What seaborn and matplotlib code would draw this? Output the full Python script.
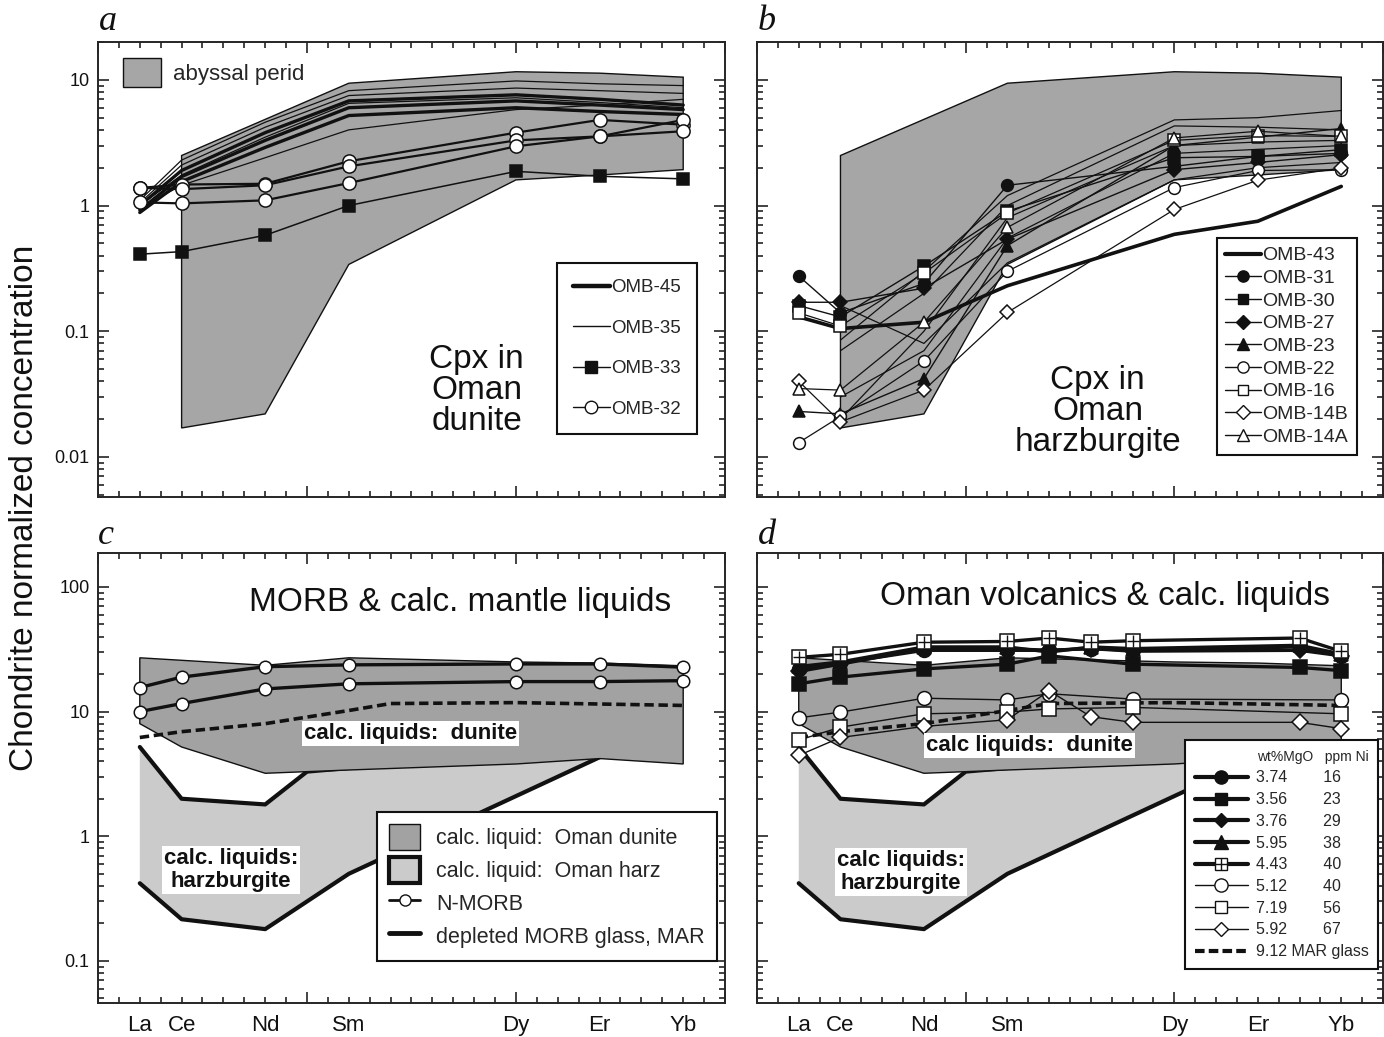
import numpy as np
import matplotlib
matplotlib.use("Agg")
import matplotlib.pyplot as plt
from matplotlib.lines import Line2D
from matplotlib.patches import Patch
from matplotlib.legend_handler import HandlerTuple
from matplotlib.ticker import FixedLocator, MultipleLocator, LogLocator, NullFormatter, FuncFormatter
from matplotlib.transforms import blended_transform_factory
import seaborn as sns

# ---- data ----
ree = ['La', 'Ce', 'Nd', 'Sm', 'Dy', 'Er', 'Yb']
ree_z = [57, 58, 60, 62, 66, 68, 70]
nan = np.nan

# abyssal peridotite cpx field (panels a, b)
abyssal_top_z = [58, 62, 66, 68, 70]
abyssal_top_v = [2.5, 9.4, 11.6, 11.3, 10.5]
abyssal_bot_z = [58, 60, 62, 66, 68, 70]
abyssal_bot_v = [0.017, 0.022, 0.34, 1.6, 1.75, 1.93]

# panel a: cpx in Oman dunite
omb45 = [[0.88, 1.55, 2.9, 5.2, 6.0, 5.6, 5.3],
         [0.92, 1.7, 3.3, 6.0, 6.8, 6.3, 5.8],
         [1.0, 1.9, 3.8, 6.8, 7.6, 7.0, 6.3]]
omb35 = [[1.05, 2.1, 4.2, 7.5, 8.6, 8.2, 7.8],
         [1.1, 2.3, 4.6, 8.2, 9.8, 9.3, 9.0],
         [0.95, 1.45, 2.4, 4.0, 5.8, 6.3, 7.0],
         [1.0, 1.75, 3.5, 6.5, 7.2, 6.6, 6.0]]
omb33 = [0.41, 0.43, 0.58, 1.0, 1.87, 1.71, 1.63]
omb32 = [[1.38, 1.47, 1.49, 2.25, 3.8, 4.8, 4.4],
         [1.38, 1.35, 1.45, 2.05, 3.3, 3.55, 4.8],
         [1.06, 1.04, 1.10, 1.51, 2.96, 3.55, 3.9]]

# panel b: cpx in Oman harzburgite
harz_names = ['OMB-43', 'OMB-31', 'OMB-30', 'OMB-27', 'OMB-23',
              'OMB-22', 'OMB-16', 'OMB-14B', 'OMB-14A']
harz_vals = [[0.13, 0.105, 0.118, 0.23, 0.59, 0.75, 1.42],
             [0.275, 0.14, 0.24, 1.45, 2.05, 2.46, 2.6],
             [0.16, 0.13, 0.33, 0.9, 2.4, 2.46, 2.78],
             [0.17, 0.17, 0.22, 0.54, 1.93, 2.2, 2.54],
             [0.023, 0.022, 0.042, 0.48, 3.0, 3.5, 4.1],
             [0.013, 0.021, 0.058, 0.30, 1.39, 1.9, 1.93],
             [0.14, 0.11, 0.29, 0.87, 3.3, 3.6, 3.55],
             [0.040, 0.019, 0.034, 0.141, 0.93, 1.59, 1.99],
             [0.035, 0.034, 0.118, 0.67, 3.45, 3.9, 3.55]]
harz_other = [[nan, 0.085, 0.30, 1.2, 4.8, 5.0, 5.7],
              [nan, 0.07, 0.20, 1.0, 4.3, 4.2, 4.0],
              [nan, 0.02, 0.10, 0.8, 3.0, 3.2, 3.3],
              [nan, 0.03, 0.07, 0.55, 2.6, 2.8, 3.0],
              [nan, 0.16, 0.08, 0.35, 1.6, 2.0, 2.2]]

# panels c, d: calculated liquid fields
dun_top_z = [57, 60, 62, 66, 68, 70]
dun_top_v = [27, 23.5, 27, 25, 24.5, 23.3]
dun_bot_z = [57, 58, 60, 62, 66, 68, 70]
dun_bot_v = [8.0, 5.2, 3.2, 3.4, 3.8, 4.2, 3.8]
hz_top_z = [57, 58, 60, 61, 66, 68]
hz_top_v = [5.2, 2.0, 1.8, 3.3, 4.6, 4.4]
hz_bot_z = [57, 58, 60, 62, 66, 68]
hz_bot_v = [0.42, 0.216, 0.18, 0.5, 2.1, 4.3]

nmorb = [[15.6, 18.9, 22.9, 23.7, 24.1, 24.1, 22.7],
         [10.0, 11.6, 15.2, 16.7, 17.4, 17.4, 17.7]]
mar_z = [57, 58, 60, 62, 63, 66, 68, 70]
mar_v = [6.2, 6.9, 8.0, 10.2, 11.6, 11.8, 11.5, 11.2]

# panel d: Oman volcanics
volc_z = [57, 58, 60, 62, 63, 64, 65, 69, 70]
volc_mgo = ['3.74', '3.56', '3.76', '5.95', '4.43', '5.12', '7.19', '5.92']
volc_ni = ['16', '23', '29', '38', '40', '40', '56', '67']
volc_vals = [[22, 24.5, 31, 31, 31, 32, 31, 33, 28],
             [16.7, 18.9, 22, 24, 28, nan, 24, 22.6, 21.3],
             [21, 24, 32, 32, 31, 32, 30.5, 31, 28],
             [23, 25, 33, 33, 30, 33, 32, 34, 29],
             [27.2, 28.8, 36, 36.5, 38.9, 36, 37, 38.9, 30.4],
             [8.9, 9.9, 12.8, 12.4, 13.9, nan, 12.6, nan, 12.4],
             [5.9, 7.5, 9.6, 9.9, 10.5, nan, 10.8, nan, 9.6],
             [4.45, 6.2, 7.6, 8.6, 14.7, 9.1, 8.2, 8.2, 7.3]]

# ---- style ----
INK = '#111111'
C_ABY = '#a6a6a6'
C_DUN = '#a2a2a2'
C_HZ = '#cbcbcb'

sns.set_style("ticks")
plt.rcParams['font.family'] = ['Liberation Sans', 'DejaVu Sans']
plt.rcParams['axes.linewidth'] = 1.4

W, H = 1384, 1037
fig = plt.figure(figsize=(W / 100, H / 100), dpi=100)


def axbox(l, t, r, b):
    return [l / W, 1 - b / H, (r - l) / W, (b - t) / H]


ax_a = fig.add_axes(axbox(98, 42, 725, 497))
ax_b = fig.add_axes(axbox(757, 42, 1383, 497))
ax_c = fig.add_axes(axbox(98, 553, 725, 1003))
ax_d = fig.add_axes(axbox(757, 553, 1383, 1003))


def draw(ax, x, y, lw=1.0, marker=None, ms=8, mfc=INK, ls='-', z=3):
    x = np.asarray(x, float)
    y = np.asarray(y, float)
    ok = ~np.isnan(y)
    sns.lineplot(x=x[ok], y=y[ok], ax=ax, color=INK, lw=lw, linestyle=ls,
                 marker=marker, ms=ms, mfc=mfc, mec=INK, mew=1.1,
                 estimator=None, sort=False, legend=False, zorder=z)


def field(ax, tz, tv, bz, bv, fc, lw=1.0, ec=INK, z=1):
    ax.fill(np.r_[tz, bz[::-1]], np.r_[tv, bv[::-1]], fc=fc, ec=ec, lw=lw, zorder=z)


for ax in (ax_a, ax_b, ax_c, ax_d):
    ax.set_yscale('log')
    ax.set_xlim(56, 71)
    ax.xaxis.set_major_locator(FixedLocator([56, 61, 66, 71]))
    ax.xaxis.set_minor_locator(MultipleLocator(0.5))
    ax.xaxis.set_major_formatter(NullFormatter())
    ax.yaxis.set_minor_locator(LogLocator(subs=np.arange(2, 10)))
    ax.yaxis.set_minor_formatter(NullFormatter())
    ax.tick_params(which='both', direction='in', top=True, right=True, width=1.1, colors=INK)
    ax.tick_params(which='major', length=8, labelsize=13, pad=6)
    ax.tick_params(which='minor', length=4)

for ax in (ax_a, ax_b):
    ax.set_ylim(0.0048, 20)
for ax in (ax_c, ax_d):
    ax.set_ylim(0.046, 187)
for ax in (ax_a, ax_c):
    ax.yaxis.set_major_formatter(FuncFormatter(lambda v, _: f'{v:g}'))
for ax in (ax_b, ax_d):
    ax.yaxis.set_major_formatter(NullFormatter())

# ---- panel a ----
field(ax_a, abyssal_top_z, abyssal_top_v, abyssal_bot_z, abyssal_bot_v, C_ABY)
for v in omb35:
    draw(ax_a, ree_z, v, lw=0.9)
for v in omb45:
    draw(ax_a, ree_z, v, lw=2.4)
draw(ax_a, ree_z, omb33, lw=1.1, marker='s', ms=9)
for v in omb32:
    draw(ax_a, ree_z, v, lw=1.6, marker='o', ms=9.5, mfc='w')

aby = ax_a.legend([Patch(fc=C_ABY, ec=INK, lw=1)], ['abyssal perid'], loc='upper left',
                  bbox_to_anchor=(0.025, 0.985), frameon=False, fontsize=16,
                  handlelength=1.75, handleheight=1.65, handletextpad=0.5, borderaxespad=0)
ax_a.add_artist(aby)
ha = [Line2D([], [], color=INK, lw=3.2),
      Line2D([], [], color=INK, lw=1.0),
      Line2D([], [], color=INK, lw=1.0, marker='s', ms=9, mfc=INK, mec=INK),
      Line2D([], [], color=INK, lw=1.0, marker='o', ms=9, mfc='w', mec=INK)]
lg = ax_a.legend(ha, ['OMB-45', 'OMB-35', 'OMB-33', 'OMB-32'], loc='upper right',
                 bbox_to_anchor=(0.955, 0.514), borderaxespad=0, fontsize=13.5,
                 labelspacing=1.25, handlelength=2.0, handletextpad=0.05, borderpad=0.85,
                 fancybox=False, framealpha=1, edgecolor=INK)
lg.get_frame().set_linewidth(1.5)
ax_a.text(0.604, 0.235, 'Cpx in\nOman\ndunite', transform=ax_a.transAxes, ha='center',
          va='center', fontsize=24, linespacing=1.0, color=INK)

# ---- panel b ----
field(ax_b, abyssal_top_z, abyssal_top_v, abyssal_bot_z, abyssal_bot_v, C_ABY)
for v in harz_other:
    draw(ax_b, ree_z, v, lw=0.9)
b_style = [(None, INK, 2.6), ('o', INK, 1.0), ('s', INK, 1.0), ('D', INK, 1.0), ('^', INK, 1.0),
           ('o', 'w', 0.9), ('s', 'w', 0.9), ('D', 'w', 0.9), ('^', 'w', 0.9)]
b_ms = {'o': 8.5, 's': 8, 'D': 7, '^': 9}
hb = []
for v, (mk, fc, lw) in zip(harz_vals, b_style):
    draw(ax_b, ree_z, v, lw=lw, marker=mk, ms=b_ms.get(mk, 8), mfc=fc)
    hb.append(Line2D([], [], color=INK, lw=3.0 if mk is None else 1.0, marker=mk,
                     ms=b_ms.get(mk, 8) * 0.95, mfc=fc, mec=INK))
lg = ax_b.legend(hb, harz_names, loc='upper right', bbox_to_anchor=(0.958, 0.569),
                 borderaxespad=0, fontsize=14, labelspacing=0.26, handlelength=1.85,
                 handletextpad=0.05, borderpad=0.45, fancybox=False, framealpha=1,
                 edgecolor=INK)
lg.get_frame().set_linewidth(1.5)
ax_b.text(0.544, 0.187, 'Cpx in\nOman\nharzburgite', transform=ax_b.transAxes, ha='center',
          va='center', fontsize=24, linespacing=1.0, color=INK)

# ---- panels c, d: calculated liquid fields ----
for ax in (ax_c, ax_d):
    field(ax, hz_top_z, hz_top_v, hz_bot_z, hz_bot_v, C_HZ, lw=0, ec='none', z=1)
    draw(ax, hz_top_z, hz_top_v, lw=3.0, z=1.5)
    draw(ax, hz_bot_z, hz_bot_v, lw=3.0, z=1.5)
    field(ax, dun_top_z, dun_top_v, dun_bot_z, dun_bot_v, C_DUN, lw=1.0, z=2)
    draw(ax, mar_z, mar_v, lw=2.6, ls=(0, (2.6, 1.3)), z=3)
    tr = blended_transform_factory(ax.transData, ax.transAxes)
    for name, z in zip(ree, ree_z):
        ax.text(z, -0.05, name, transform=tr, ha='center', va='center', fontsize=16, color=INK)

# panel c
for v in nmorb:
    draw(ax_c, ree_z, v, lw=2.4, marker='o', ms=9, mfc='w', z=4)
box = dict(fc='w', ec='none', pad=1.5)
ax_c.text(0.577, 0.889, 'MORB & calc. mantle liquids', transform=ax_c.transAxes, ha='center',
          va='center', fontsize=24, color=INK)
ax_c.text(0.499, 0.600, 'calc. liquids:  dunite', transform=ax_c.transAxes, ha='center',
          va='center', fontsize=16, weight='bold', color=INK, bbox=box, zorder=6)
ax_c.text(0.212, 0.296, 'calc. liquids:\nharzburgite', transform=ax_c.transAxes, ha='center',
          va='center', fontsize=16, weight='bold', color=INK, bbox=box, zorder=6,
          linespacing=1.1)
hc = [Patch(fc=C_DUN, ec=INK, lw=1.0), Patch(fc=C_HZ, ec=INK, lw=3.0),
      Line2D([], [], color=INK, lw=2.0, marker='o', ms=8, mfc='w', mec=INK),
      Line2D([], [], color=INK, lw=3.5)]
lg = ax_c.legend(hc, ['calc. liquid:  Oman dunite', 'calc. liquid:  Oman harz', 'N-MORB',
                      'depleted MORB glass, MAR'], loc='upper right',
                 bbox_to_anchor=(0.987, 0.424), borderaxespad=0, fontsize=15.5,
                 labelspacing=0.35, handlelength=1.45, handleheight=1.45, handletextpad=0.75,
                 borderpad=0.55, fancybox=False, framealpha=1, edgecolor=INK)
lg.get_frame().set_linewidth(1.5)

# panel d
d_style = [('o', INK, 2.4), ('s', INK, 2.4), ('D', INK, 2.4), ('^', INK, 2.4),
           ('s', 'w', 2.4), ('o', 'w', 1.0), ('s', 'w', 1.0), ('D', 'w', 1.0)]
d_ms = {'o': 10, 's': 9.5, 'D': 8, '^': 10}
hd = []
for i, (v, (mk, fc, lw)) in enumerate(zip(volc_vals, d_style)):
    draw(ax_d, volc_z, v, lw=lw, marker=mk, ms=d_ms[mk], mfc=fc, z=4)
    h = Line2D([], [], color=INK, lw=3.0 if lw > 2 else 1.0, marker=mk, ms=d_ms[mk] * 0.95,
               mfc=fc, mec=INK)
    if i == 4:
        vz = np.asarray(volc_z, float)
        vv = np.asarray(v, float)
        sns.scatterplot(x=vz, y=vv, ax=ax_d, marker='+', s=70, color=INK, linewidth=1.0,
                        legend=False, zorder=5)
        h = (h, Line2D([], [], lw=0, marker='+', ms=9, mew=1.0, color=INK))
    hd.append(h)
hd.append(Line2D([], [], color=INK, lw=3.0, ls=(0, (2.3, 1.0))))
labels_d = [f'{m}        {n}' for m, n in zip(volc_mgo, volc_ni)] + ['9.12 MAR glass']
lg = ax_d.legend(hd, labels_d, loc='upper right', bbox_to_anchor=(0.992, 0.584),
                 borderaxespad=0, fontsize=11.5, title='wt%MgO   ppm Ni', title_fontsize=10,
                 alignment='right', labelspacing=0.42, handlelength=3.3, handletextpad=0.5,
                 borderpad=0.6, fancybox=False, framealpha=1, edgecolor=INK,
                 handler_map={tuple: HandlerTuple(ndivide=1)})
lg.get_frame().set_linewidth(1.5)
ax_d.text(0.556, 0.904, 'Oman volcanics & calc. liquids', transform=ax_d.transAxes,
          ha='center', va='center', fontsize=24, color=INK)
ax_d.text(0.436, 0.573, 'calc liquids:  dunite', transform=ax_d.transAxes, ha='center',
          va='center', fontsize=16, weight='bold', color=INK, bbox=box, zorder=6)
ax_d.text(0.23, 0.291, 'calc liquids:\nharzburgite', transform=ax_d.transAxes, ha='center',
          va='center', fontsize=16, weight='bold', color=INK, bbox=box, zorder=6,
          linespacing=1.1)

for ax in (ax_a, ax_b, ax_c, ax_d):
    ax.set_xlabel('')
    ax.set_ylabel('')

# panel letters and shared y label
for letter, (px, py) in zip('abcd', [(108, 22), (767, 22), (106, 535), (767, 535)]):
    fig.text(px / W, 1 - py / H, letter, ha='center', va='center', fontsize=26,
             family=['Liberation Serif', 'DejaVu Serif'], style='italic', color=INK)
fig.text(25 / W, 1 - 508 / H, 'Chondrite normalized concentration', rotation=90,
         ha='center', va='center', fontsize=24, color=INK)

fig.savefig('out.png', dpi=100)
